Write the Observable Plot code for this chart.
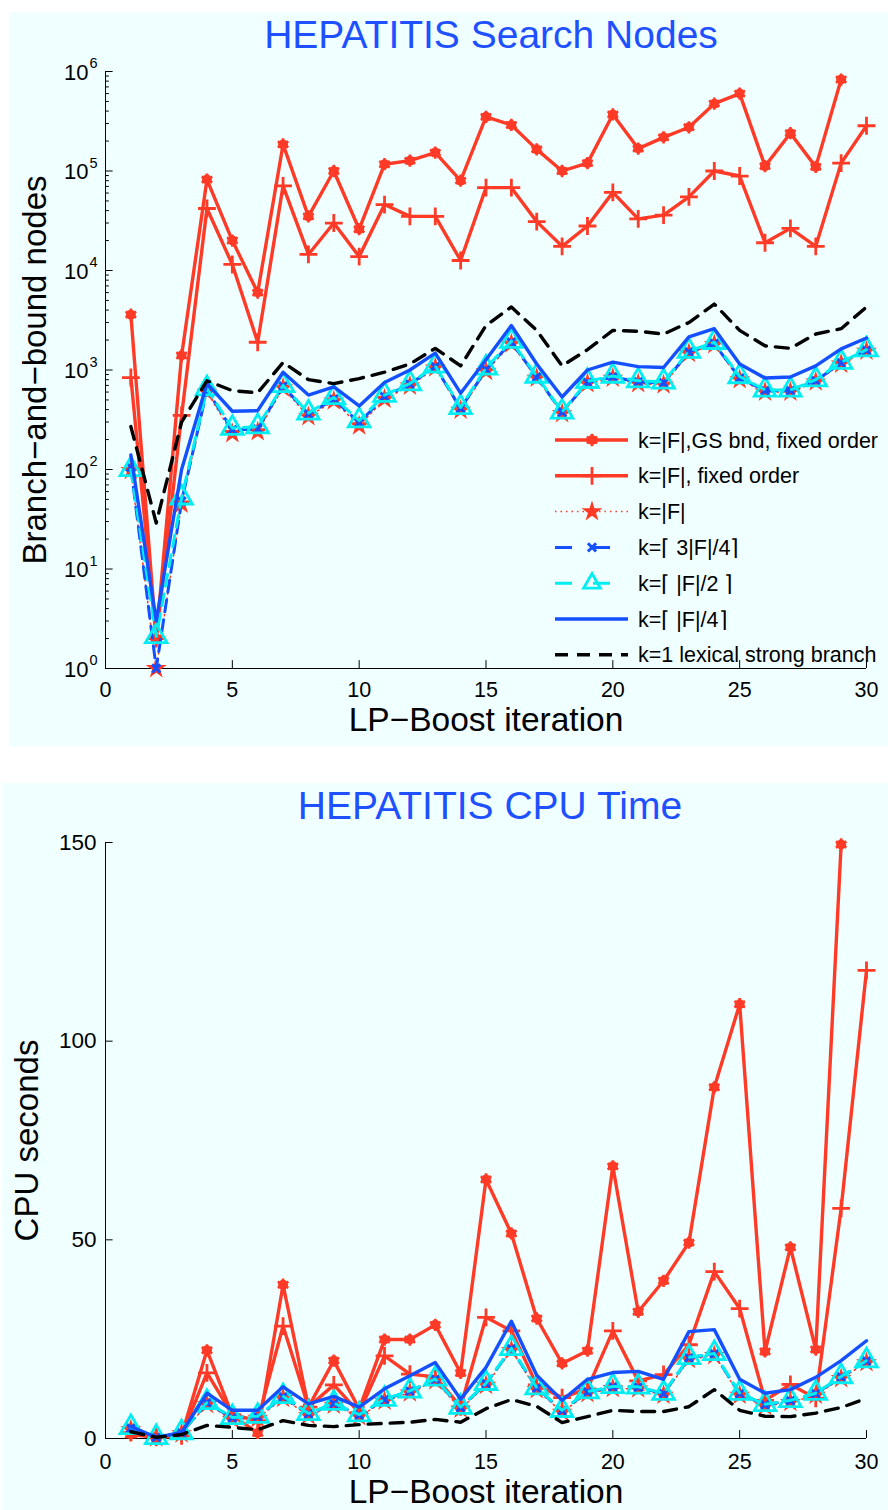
<!DOCTYPE html>
<html><head><meta charset="utf-8">
<script src="https://cdn.jsdelivr.net/npm/d3@7"></script>
<script src="https://cdn.jsdelivr.net/npm/@observablehq/plot@0.6"></script>
<style>
html,body{margin:0;padding:0;background:#ffffff;}
body{width:888px;height:1510px;position:relative;overflow:hidden;font-family:"Liberation Sans",Arial,sans-serif;}
.panel{position:absolute;background:#f0ffff;}
.abs{position:absolute;}
</style>
</head><body>
<div id="top" class="panel" style="left:9px;top:12px;width:879px;height:734px;"></div>
<div id="bottom" class="panel" style="left:2px;top:783px;width:886px;height:727px;"></div>
<div id="legend" class="abs" style="left:540px;top:420px;width:348px;height:250px;"></div>
<script>
// ---------------- data ----------------
const iterations = [1,2,3,4,5,6,7,8,9,10,11,12,13,14,15,16,17,18,19,20,21,22,23,24,25,26,27,28,29,30];

// Search nodes (top panel)
const nodesGS    = [3600,2,1400,82000,20000,6000,185000,35000,100000,26000,117000,127000,153000,80000,350000,290000,165000,100000,120000,370000,168000,218000,275000,475000,600000,112000,240000,110000,830000,null];
const nodesFixed = [840,2,350,42000,11500,1900,71000,14500,30000,13800,46000,35000,35000,12600,68000,68000,31000,17500,28000,61000,33000,36000,55000,100000,89000,19000,26500,17500,120000,285000];
const nodesFull  = [98,1,45,600,230,240,660,340,490,275,510,690,1050,395,970,1830,830,365,730,830,730,710,1470,1800,800,600,600,760,1150,1550];
const nodes34    = [105,1,48,630,250,255,690,360,510,295,540,720,1080,410,1010,1900,850,375,750,850,760,740,1520,1850,830,620,620,780,1180,1580];
const nodes12    = [100,2.1,52,650,260,270,700,370,530,310,560,730,1100,420,1050,1950,870,380,770,870,780,760,1550,1900,860,630,630,800,1200,1600];
const nodes14    = [140,3,100,730,385,390,950,560,675,435,750,1000,1480,585,1270,2800,1150,535,1000,1200,1080,1060,2150,2600,1150,830,850,1100,1630,2100];
const nodesLex   = [270,29,300,780,620,590,1190,800,730,820,950,1150,1650,1100,2800,4300,2500,1100,1600,2500,2450,2300,3000,4600,2500,1750,1650,2300,2600,4300];

// CPU seconds (bottom panel)
const cpuGS    = [1,0.3,0.8,22.2,5.8,1.4,38.7,7.9,19.6,7.4,24.9,24.9,28.6,16.5,65.2,51.6,30.2,18.9,22.1,68.5,31.9,39.7,49.3,88.4,109.3,21.9,48.1,22.4,149.5,null];
const cpuFixed = [1.5,0.3,0.7,16.5,6,4.5,28.3,7.9,13.5,6.5,20.8,16.2,15.5,8,30.5,27.1,13.5,10.3,12.5,27.1,14.5,16.1,23.6,42,32.7,9.6,13.6,10.1,57.9,117.8];
const cpuFull  = [2.2,0.2,1.2,8.6,4.8,5.1,10.1,5.8,8.4,5.5,9.4,11.5,14.5,7.4,13.4,22.2,12.3,6.6,11.3,12.6,12.5,10.9,19.9,20.9,10.9,8.1,9.1,10.9,15.1,19.1];
const cpu34    = [2.6,0.3,1.4,9,5.2,5.5,10.5,6.2,8.8,5.9,9.8,11.9,14.9,7.8,13.8,22.6,12.7,7,11.7,13,12.9,11.3,20.3,21.3,11.3,8.5,9.5,11.3,15.5,19.5];
const cpu12    = [2.8,0.3,1.5,9.1,5.3,5.6,10.6,6.3,8.9,6,9.9,12,15,7.9,13.9,22.7,12.8,7.1,11.8,13.1,13,11.4,20.4,21.4,11.4,8.6,9.6,11.4,15.6,19.6];
const cpu14    = [3,0.3,1.5,11.4,7.1,7.1,13,8.7,10.6,7.9,12.5,15.8,19.1,9.9,17.9,29.5,15.9,9.6,14.9,16.6,16.9,14.9,26.9,27.4,14.9,11.4,12.3,15.4,19.6,24.6];
const cpuLex   = [1.7,0.3,1,3.3,2.8,2.2,4.5,3.3,3,3.5,3.8,4.1,4.8,4.1,7.5,9.8,8.1,4,5.5,7.1,6.8,6.8,8,12.3,7.1,5.6,5.5,6.4,7.8,10.1];

// ticks and labels
const xTicks = [0,5,10,15,20,25,30];
const logExponents = [0,1,2,3,4,5,6];
const cpuTicks = [0,50,100,150];
const legendLabels = ["k=|F|,GS bnd, fixed order","k=|F|, fixed order","k=|F|","k=\u2308 3|F|/4\u2309","k=\u2308 |F|/2 \u2309","k=\u2308 |F|/4\u2309","k=1 lexical strong branch"];
const titleTop = "HEPATITIS Search Nodes";
const titleBottom = "HEPATITIS CPU Time";
const xLabel = "LP\u2212Boost iteration";
const yLabelTop = "Branch\u2212and\u2212bound nodes";
const yLabelBottom = "CPU seconds";

// ---------------- style ----------------
const RED = "#ff3a26", BLUE = "#1450ff", CYAN = "#00eef2", BLACK = "#000000", TITLE = "#1f50ff";
const FONT = "'Liberation Sans', Arial, sans-serif";

const rows = ys => iterations.map((x, i) => ({x, y: ys[i]})).filter(d => d.y != null);

function seriesMarks(s) {
  return [
    Plot.line(rows(s.gs), {x: "x", y: "y", stroke: RED, strokeWidth: 3.4, strokeLinejoin: "round"}),
    Plot.dot(rows(s.gs), {x: "x", y: "y", r: 5, fill: RED}),
    Plot.dot(rows(s.gs), {x: "x", y: "y", r: 5.8, symbol: "asterisk", stroke: RED, strokeWidth: 2.6}),
    Plot.line(rows(s.fixed), {x: "x", y: "y", stroke: RED, strokeWidth: 3.4, strokeLinejoin: "round"}),
    Plot.dot(rows(s.fixed), {x: "x", y: "y", r: 5.8, symbol: "plus", stroke: RED, strokeWidth: 2.8}),
    Plot.line(rows(s.full), {x: "x", y: "y", stroke: RED, strokeWidth: 1.5, strokeDasharray: "1.5,4"}),
    Plot.dot(rows(s.full), {x: "x", y: "y", r: 6.6, symbol: "star", fill: RED}),
    Plot.line(rows(s.k34), {x: "x", y: "y", stroke: BLUE, strokeWidth: 3, strokeDasharray: "12,8"}),
    Plot.dot(rows(s.k34), {x: "x", y: "y", r: 3.8, symbol: "times", stroke: BLUE, strokeWidth: 3}),
    Plot.line(rows(s.k12), {x: "x", y: "y", stroke: CYAN, strokeWidth: 3, strokeDasharray: "12,8"}),
    Plot.dot(rows(s.k12), {x: "x", y: "y", r: 8, symbol: "triangle", stroke: CYAN, strokeWidth: 2.8, fill: "none"}),
    Plot.line(rows(s.k14), {x: "x", y: "y", stroke: BLUE, strokeWidth: 3.4, strokeLinejoin: "round"}),
    Plot.line(rows(s.lex), {x: "x", y: "y", stroke: BLACK, strokeWidth: 3.4, strokeDasharray: "13,9"})
  ];
}

// ---------------- top panel ----------------
const majorLog = logExponents.map(e => 10 ** e);
const minorLog = [];
for (const e of logExponents.slice(0, -1)) for (let m = 2; m <= 9; m++) minorLog.push(m * 10 ** e);

const topPlot = Plot.plot({
  width: 879, height: 734,
  marginLeft: 96, marginRight: 22, marginTop: 59, marginBottom: 78,
  style: {background: "transparent", fontFamily: FONT, overflow: "visible"},
  x: {domain: [0, 30], axis: null},
  y: {type: "log", domain: [1, 1e6], axis: null},
  marks: [
    Plot.ruleX([0], {y1: 1, y2: 1e6, stroke: "black", strokeWidth: 1}),
    Plot.ruleY([1], {x1: 0, x2: 30, stroke: "black", strokeWidth: 1}),
    Plot.ruleX(xTicks, {x: d => d, y1: 1, y2: 1.2, stroke: "black"}),
    Plot.ruleY(majorLog, {y: d => d, x1: 0, x2: 0.3, stroke: "black"}),
    Plot.ruleY(minorLog, {y: d => d, x1: 0, x2: 0.15, stroke: "black"}),
    Plot.text(xTicks, {x: d => d, frameAnchor: "bottom", lineAnchor: "middle", dy: 22, text: d => String(d), fontSize: 21.5, fill: "black"}),
    Plot.text(majorLog, {y: d => d, frameAnchor: "left", lineAnchor: "middle", dx: -17, dy: 1, text: () => "10", textAnchor: "end", fontSize: 22, fill: "black"}),
    Plot.text(majorLog, {y: d => d, frameAnchor: "left", lineAnchor: "middle", dx: -16, dy: -8, text: d => String(Math.round(Math.log10(d))), textAnchor: "start", fontSize: 14.5, fill: "black"}),
    Plot.text([titleTop], {frameAnchor: "top", lineAnchor: "middle", dx: 5, dy: -36, text: d => d, fontSize: 39, fill: TITLE}),
    Plot.text([xLabel], {frameAnchor: "bottom", lineAnchor: "middle", dy: 52, text: d => d, fontSize: 33.5, fill: "black"}),
    Plot.text([yLabelTop], {frameAnchor: "left", textAnchor: "middle", lineAnchor: "middle", dx: -70, rotate: -90, text: d => d, fontSize: 33, fill: "black"}),
    ...seriesMarks({gs: nodesGS, fixed: nodesFixed, full: nodesFull, k34: nodes34, k12: nodes12, k14: nodes14, lex: nodesLex})
  ]
});
document.getElementById("top").appendChild(topPlot);

// ---------------- bottom panel ----------------
const bottomPlot = Plot.plot({
  width: 886, height: 727,
  marginLeft: 103, marginRight: 22, marginTop: 59, marginBottom: 72,
  style: {background: "transparent", fontFamily: FONT, overflow: "visible"},
  x: {domain: [0, 30], axis: null},
  y: {domain: [0, 150], axis: null},
  marks: [
    Plot.ruleX([0], {y1: 0, y2: 150, stroke: "black", strokeWidth: 1}),
    Plot.ruleY([0], {x1: 0, x2: 30, stroke: "black", strokeWidth: 1}),
    Plot.ruleX(xTicks, {x: d => d, y1: 0, y2: 2, stroke: "black"}),
    Plot.ruleY(cpuTicks, {y: d => d, x1: 0, x2: 0.3, stroke: "black"}),
    Plot.text(xTicks, {x: d => d, frameAnchor: "bottom", lineAnchor: "middle", dy: 24, text: d => String(d), fontSize: 21.5, fill: "black"}),
    Plot.text(cpuTicks, {y: d => d, frameAnchor: "left", lineAnchor: "middle", dx: -9, text: d => String(d), textAnchor: "end", fontSize: 22.5, fill: "black"}),
    Plot.text([titleBottom], {frameAnchor: "top", lineAnchor: "middle", dx: 4, dy: -36, text: d => d, fontSize: 39, fill: TITLE}),
    Plot.text([xLabel], {frameAnchor: "bottom", lineAnchor: "middle", dy: 54, text: d => d, fontSize: 33.5, fill: "black"}),
    Plot.text([yLabelBottom], {frameAnchor: "left", textAnchor: "middle", lineAnchor: "middle", dx: -78, rotate: -90, text: d => d, fontSize: 33, fill: "black"}),
    ...seriesMarks({gs: cpuGS, fixed: cpuFixed, full: cpuFull, k34: cpu34, k12: cpu12, k14: cpu14, lex: cpuLex})
  ]
});
document.getElementById("bottom").appendChild(bottomPlot);

// ---------------- legend (top panel) ----------------
const legendStyles = [
  {stroke: RED, width: 3.4, dash: null, marker: "gs"},
  {stroke: RED, width: 3.4, dash: null, marker: "plus"},
  {stroke: RED, width: 1.5, dash: "1.5,4", marker: "star"},
  {stroke: BLUE, width: 3, dash: "17,21", marker: "times"},
  {stroke: CYAN, width: 3, dash: "17,21", marker: "triangle"},
  {stroke: BLUE, width: 3.4, dash: null, marker: null},
  {stroke: BLACK, width: 3.4, dash: "13,9", marker: null}
];
const lg = d3.select("#legend").append("svg").attr("width", 348).attr("height", 250)
  .style("overflow", "visible").style("font-family", FONT);
const sym = (type, r) => d3.symbol().type(type).size(Math.PI * r * r)();
legendLabels.forEach((label, i) => {
  const st = legendStyles[i];
  const g = lg.append("g").attr("transform", `translate(0,${20 + i * 35.8})`);
  g.append("line").attr("x1", 15).attr("x2", 88).attr("y1", 0).attr("y2", 0)
    .attr("stroke", st.stroke).attr("stroke-width", st.width)
    .attr("stroke-dasharray", st.dash);
  const m = g.append("g").attr("transform", "translate(52,0)");
  if (st.marker === "gs") {
    m.append("circle").attr("r", 5).attr("fill", RED);
    m.append("path").attr("d", sym(d3.symbolAsterisk, 5.8)).attr("stroke", RED).attr("stroke-width", 2.6).attr("fill", "none");
  } else if (st.marker === "plus") {
    m.append("path").attr("d", sym(d3.symbolPlus, 5.8)).attr("stroke", RED).attr("stroke-width", 2.8).attr("fill", "none");
  } else if (st.marker === "star") {
    m.append("path").attr("d", sym(d3.symbolStar, 6.6)).attr("fill", RED);
  } else if (st.marker === "times") {
    m.append("path").attr("d", sym(d3.symbolTimes, 3.8)).attr("stroke", BLUE).attr("stroke-width", 3).attr("fill", "none");
  } else if (st.marker === "triangle") {
    m.append("path").attr("d", sym(d3.symbolTriangle2, 8)).attr("stroke", CYAN).attr("stroke-width", 2.8).attr("fill", "none");
  }
  g.append("text").attr("x", 98).attr("y", 0).attr("dy", "0.35em")
    .attr("font-size", 21.5).attr("fill", "black").text(label);
});
</script>
</body></html>
